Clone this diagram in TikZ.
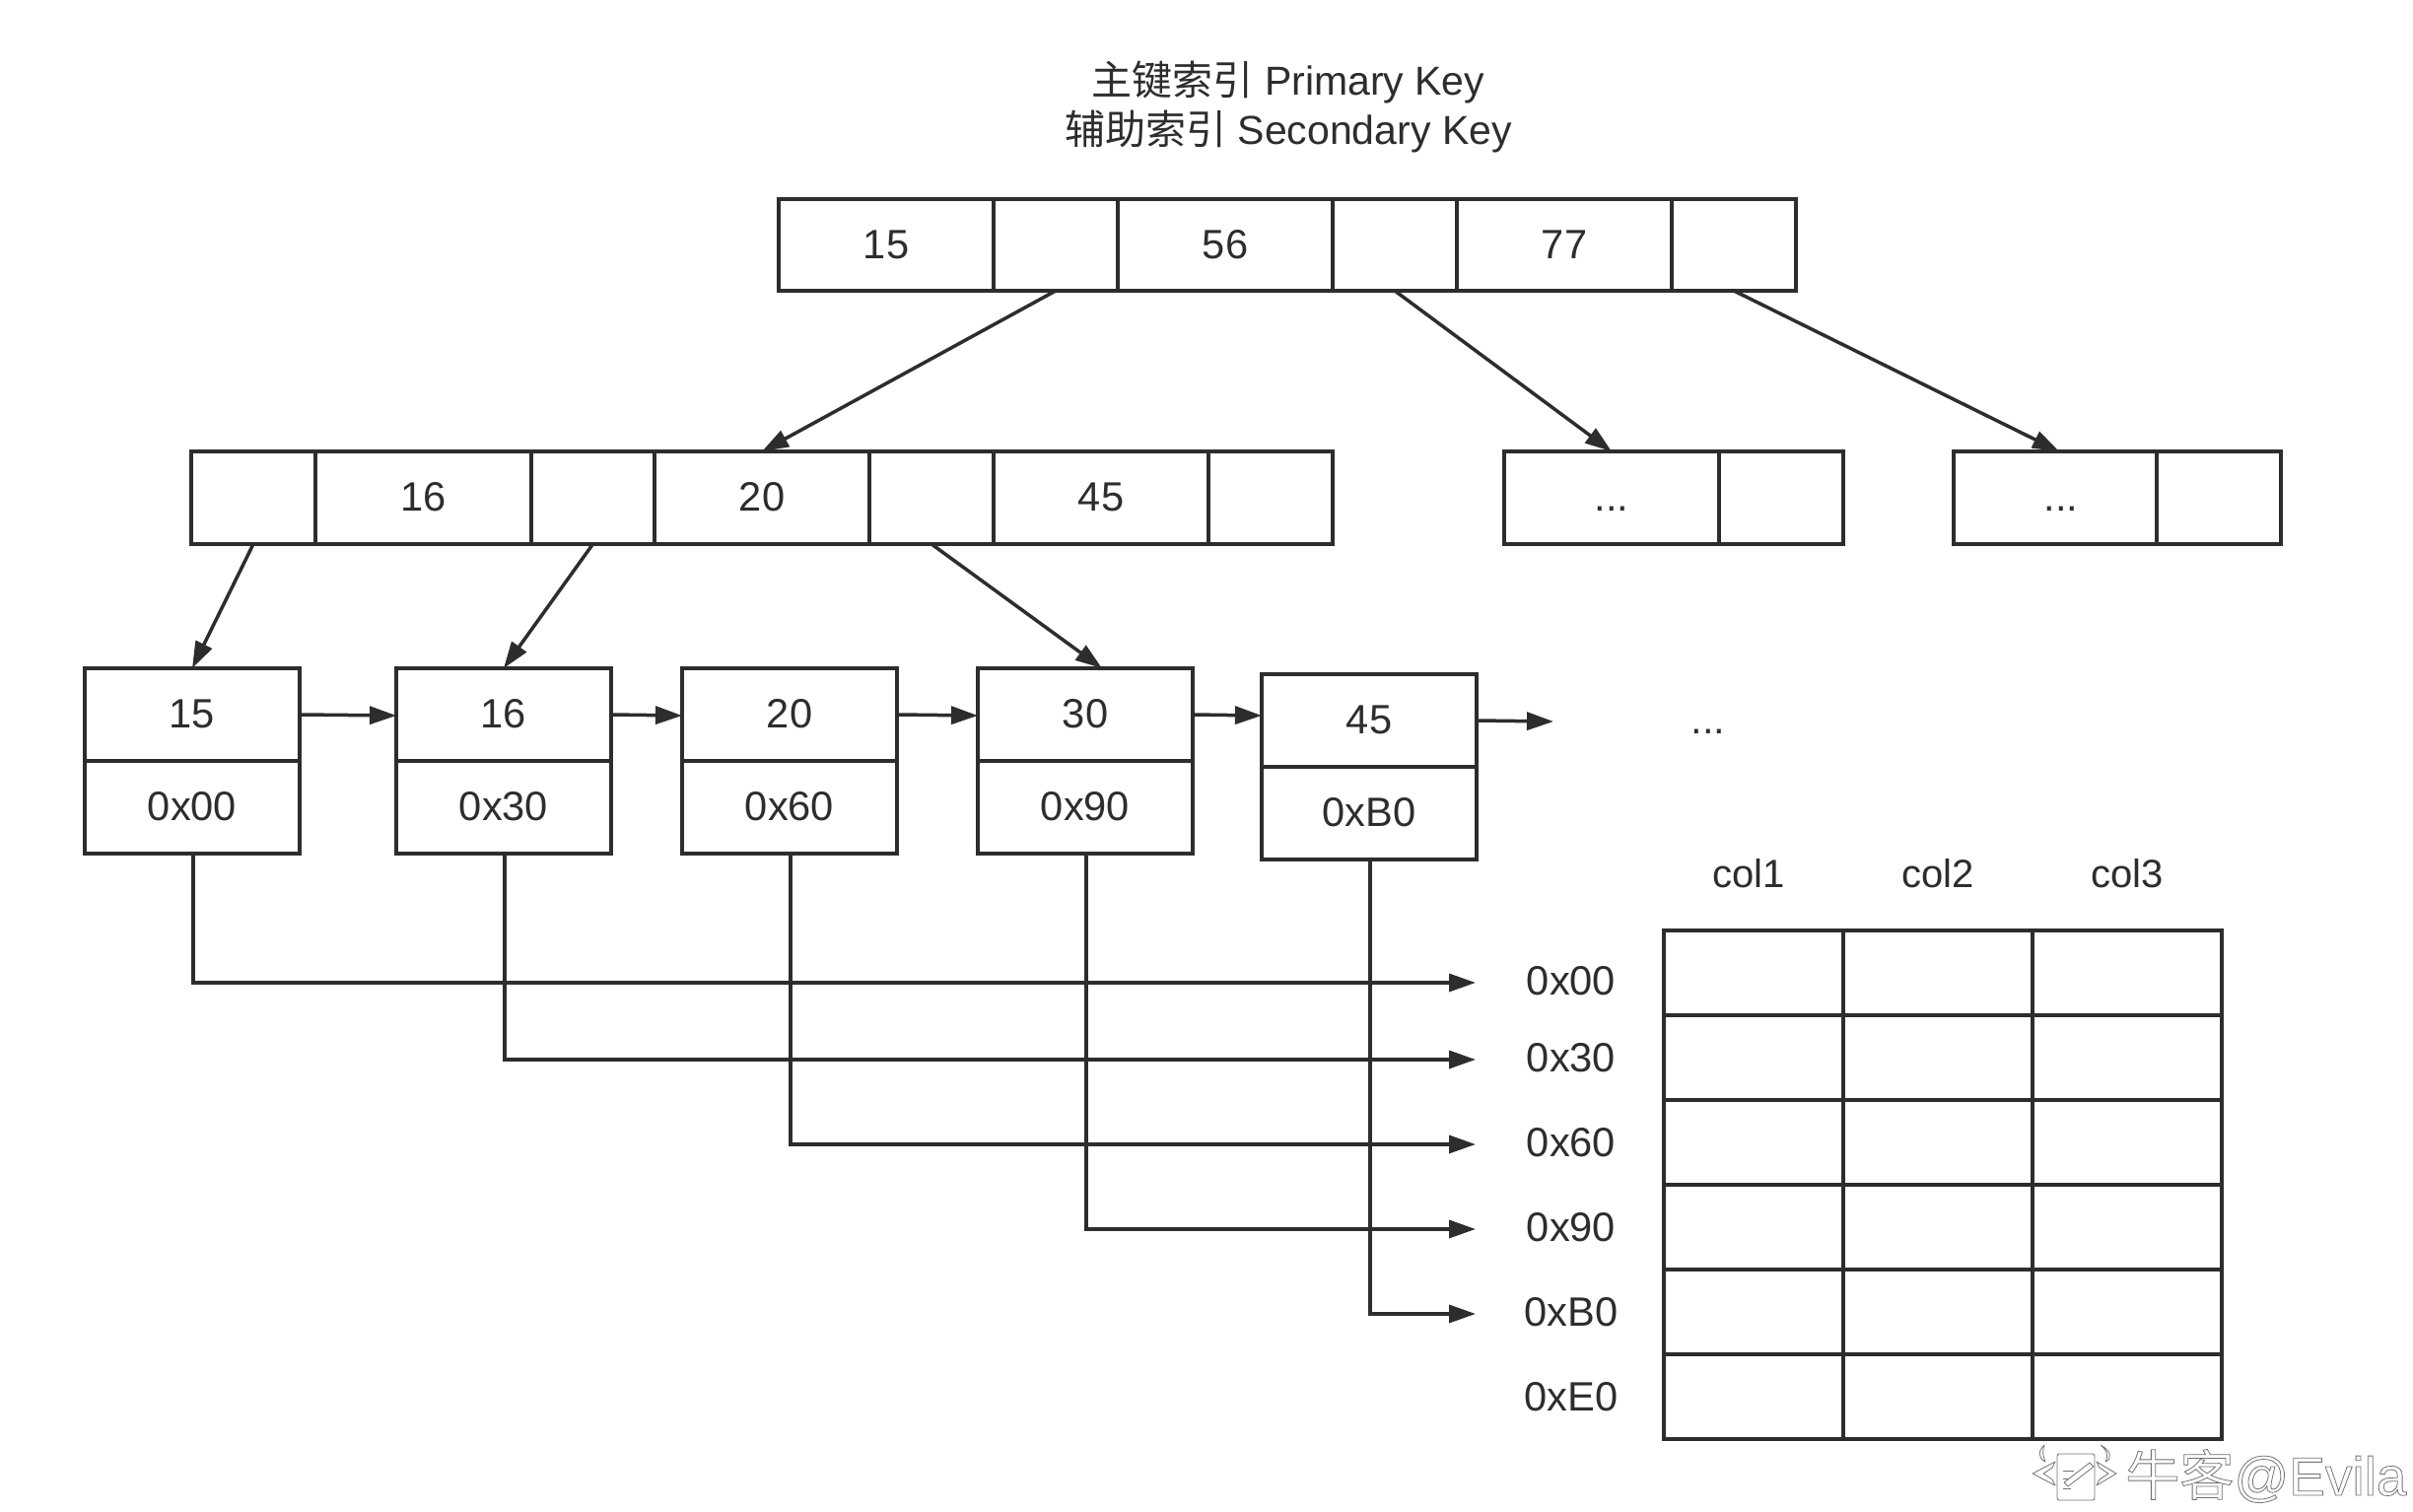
\documentclass[tikz,border=0pt]{standalone}
\usepackage{fontspec}
\setmainfont{Liberation Sans}
\newfontfamily\cjk{Noto Sans CJK SC}
\usetikzlibrary{arrows.meta,calc}
\definecolor{ink}{HTML}{2D2D2D}
\newcommand\cellnode[7][]{\node[cellbox,#1,minimum width={(#5-#3)*0.5pt},minimum height={(#6-#4)*0.5pt}] (#2) at ({(#3+#5)/2},{(#4+#6)/2}) {#7};}
\newcommand\outlinetext[1]{\special{pdf:code q 1 Tr 0.4 w 0.45 G}#1\special{pdf:code Q}}
\tikzset{
  cellbox/.style={draw=ink,line width=1.75pt,rectangle,inner sep=0pt,outer sep=0pt,text=ink,font=\fontsize{20.8}{24}\selectfont,text height=15pt,text depth=1.5pt,align=center},
  rootcell/.style={text depth=.5pt},
  plainlabel/.style={inner sep=0pt,outer sep=0pt,text=ink,font=\fontsize{20.8}{24}\selectfont,text height=15pt,text depth=1.5pt},
  rowlabel/.style={plainlabel,minimum width=97pt,align=center,text depth=3pt},
  link/.style={draw=ink,line width=1.75pt,-{Triangle[length=13.5pt,width=9pt]}},
  logoline/.style={draw=black!55,line width=.4pt,fill=white,line join=round},
}
\begin{document}
\begin{tikzpicture}[x=0.5pt,y=-0.5pt]
\useasboundingbox (0,0) rectangle (2448,1534);
\fill[white] (0,0) rectangle (2448,1534);
% title
\node[inner sep=0pt,text=ink,align=center,font=\fontsize{20.5}{25}\selectfont] (title) at (1307,108.5)
  {{\cjk 主键索引} Primary Key\\{\cjk 辅助索引} Secondary Key};
% root
\cellnode[rootcell]{r1}{790}{202}{1008}{295}{15}
\cellnode[rootcell]{r2}{1008}{202}{1134}{295}{}
\cellnode[rootcell]{r3}{1134}{202}{1352}{295}{56}
\cellnode[rootcell]{r4}{1352}{202}{1478}{295}{}
\cellnode[rootcell]{r5}{1478}{202}{1696}{295}{77}
\cellnode[rootcell]{r6}{1696}{202}{1822}{295}{}
% second level
\cellnode{m1}{194}{458}{320}{552}{}
\cellnode{m2}{320}{458}{539}{552}{16}
\cellnode{m3}{539}{458}{664}{552}{}
\cellnode{m4}{664}{458}{882}{552}{20}
\cellnode{m5}{882}{458}{1008}{552}{}
\cellnode{m6}{1008}{458}{1226}{552}{45}
\cellnode{m7}{1226}{458}{1352}{552}{}
\cellnode{a1}{1526}{458}{1744}{552}{...}
\cellnode{a2}{1744}{458}{1870}{552}{}
\cellnode{b1}{1982}{458}{2188}{552}{\hspace{6pt}...}
\cellnode{b2}{2188}{458}{2314}{552}{}
% leaves
\cellnode{l1k}{86}{678}{304}{772}{15}
\cellnode{l1v}{86}{772}{304}{866}{0x00}
\cellnode{l2k}{402}{678}{620}{772}{16}
\cellnode{l2v}{402}{772}{620}{866}{0x30}
\cellnode{l3k}{692}{678}{910}{772}{20}
\cellnode{l3v}{692}{772}{910}{866}{0x60}
\cellnode{l4k}{992}{678}{1210}{772}{30}
\cellnode{l4v}{992}{772}{1210}{866}{0x90}
\cellnode{l5k}{1280}{684}{1498}{778}{45}
\cellnode{l5v}{1280}{778}{1498}{872}{0xB0}
\node[plainlabel] (more) at (1733,731) {...};
\coordinate (moreend) at (1576,732);
% row labels
\node[rowlabel] (p1) at (1594,997) {0x00};
\node[rowlabel] (p2) at (1594,1075) {0x30};
\node[rowlabel] (p3) at (1594,1161) {0x60};
\node[rowlabel] (p4) at (1594,1247) {0x90};
\node[rowlabel] (p5) at (1594,1333) {0xB0};
\node[rowlabel] (p6) at (1594,1419) {0xE0};
% table
\node[plainlabel,font=\fontsize{20}{24}\selectfont] (c1) at (1774,887) {col1};
\node[plainlabel,font=\fontsize{20}{24}\selectfont] (c2) at (1966,887) {col2};
\node[plainlabel,font=\fontsize{20}{24}\selectfont] (c3) at (2158,887) {col3};
\foreach \r/\ya/\yb in {1/944/1030,2/1030/1116,3/1116/1202,4/1202/1288,5/1288/1374,6/1374/1460}{
  \cellnode{t\r a}{1688}{\ya}{1870}{\yb}{}
  \cellnode{t\r b}{1870}{\ya}{2062}{\yb}{}
  \cellnode{t\r c}{2062}{\ya}{2254}{\yb}{}
}
% tree links
\draw[link] (r2.south) -- (m4.north);
\draw[link] (r4.south) -- (a1.north);
\draw[link] (r6.south) -- ([xshift=2pt]b1.north);
\draw[link] (m1.south) -- (l1k.north);
\draw[link] (m3.south) -- (l2k.north);
\draw[link] (m5.south) -- ([xshift=8.5pt]l4k.north);
% leaf chain
\draw[link] (l1k.east) -- ([yshift=-.5pt]l2k.west);
\draw[link] (l2k.east) -- ([yshift=-.5pt]l3k.west);
\draw[link] (l3k.east) -- ([yshift=-.5pt]l4k.west);
\draw[link] (l4k.east) -- ([yshift=2.5pt]l5k.west);
\draw[link] (l5k.east) -- (moreend);
% row pointers
\draw[link] ([xshift=.5pt]l1v.south) |- (p1.west);
\draw[link] ([xshift=.5pt]l2v.south) |- (p2.west);
\draw[link] ([xshift=.5pt]l3v.south) |- (p3.west);
\draw[link] ([xshift=.5pt]l4v.south) |- (p4.west);
\draw[link] ([xshift=.5pt]l5v.south) |- (p5.west);
% watermark
\node[anchor=base west,inner sep=0pt,font=\fontsize{27.5}{30}\selectfont] (wm) at (2156,1517)
  {\outlinetext{{\cjk 牛客}@Evila}};
\draw[logoline,rounded corners=1pt] (2087,1475) rectangle (2125,1522);
\draw[logoline] (2085,1483) -- (2062,1495) -- (2085,1507) -- (2082,1501) -- (2073,1495) -- (2082,1489) -- cycle;
\draw[logoline] (2127,1483) -- (2147,1495) -- (2127,1507) -- (2130,1501) -- (2139,1495) -- (2130,1489) -- cycle;
\draw[logoline] (2074,1466) .. controls (2067,1472) and (2068,1480) .. (2075,1483) .. controls (2072,1476) and (2072,1472) .. (2074,1466);
\draw[logoline] (2131,1466) .. controls (2142,1472) and (2143,1480) .. (2136,1483) .. controls (2139,1476) and (2138,1472) .. (2131,1466);
\draw[logoline] (2094,1504) -- (2120,1484) -- (2124,1488) -- (2098,1508) -- cycle;
\draw[logoline] (2093,1492) -- (2104,1492) (2093,1500) -- (2099,1500) (2093,1510) -- (2101,1510);
\end{tikzpicture}
\end{document}
